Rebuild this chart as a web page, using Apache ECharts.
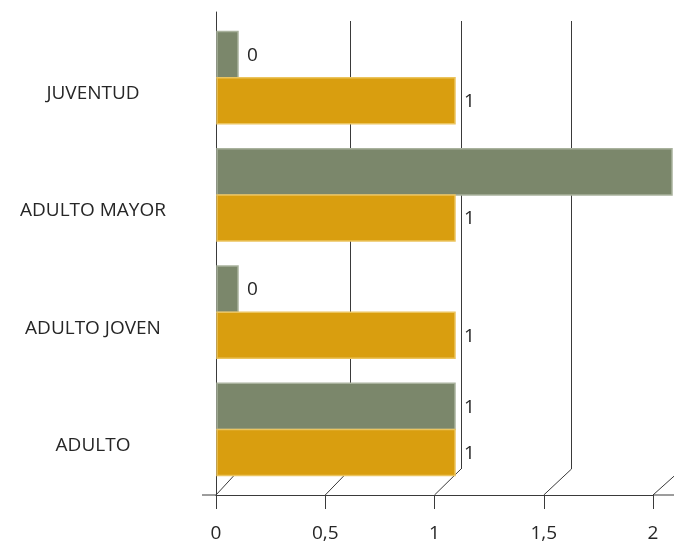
<!DOCTYPE html>
<html>
<head>
<meta charset="utf-8">
<script src="https://cdn.jsdelivr.net/npm/echarts@6/dist/echarts.min.js"></script>
<style>
  html, body { margin: 0; padding: 0; background: #ffffff; }
  #chart { width: 674px; height: 543px; }
</style>
</head>
<body>
<div id="chart"></div>
<script>
// Age groups, top to bottom
const categories = ['JUVENTUD', 'ADULTO MAYOR', 'ADULTO JOVEN', 'ADULTO'];
// Upper (olive) bar of each group
const greenValues = [0, 2, 0, 1];
// Lower (amber) bar of each group
const yellowValues = [1, 1, 1, 1];
// Value-axis range and tick step
const axisMin = 0;
const axisMax = 2;
const axisStep = 0.5;

const FONT = '"Open Sans", "Liberation Sans", sans-serif';
const FONT_SIZE = 19;
const TEXT = '#262626';
const LINE = '#3a3a3a';
const DEPTH = 21;           // visible side depth of each 3D bar, px

const fmt = v => String(v).replace('.', ',');

function barRenderer(slot, fill, edge) {
  return function (params, api) {
    const v = api.value(0);
    const c = api.value(1);
    const base = api.coord([0, c]);
    const end = api.coord([v, c]);
    const band = api.size([0, 1])[1];
    const h = band * 0.393;
    const center = base[1] - 2;
    const top = slot === 0 ? center - h : center;
    const x0 = base[0] - DEPTH;
    return {
      type: 'group',
      children: [
        {
          type: 'rect',
          shape: { x: x0, y: top, width: end[0] - x0, height: h },
          style: { fill: fill, stroke: edge, lineWidth: 1.5 }
        },
        {
          type: 'text',
          style: {
            text: fmt(v),
            x: end[0] + 9,
            y: top + h / 2 + 1,
            verticalAlign: 'middle',
            align: 'left',
            fill: TEXT,
            fontFamily: FONT,
            fontSize: FONT_SIZE
          }
        }
      ]
    };
  };
}

const chart = echarts.init(document.getElementById('chart'), null, { renderer: 'canvas' });

chart.setOption({
  backgroundColor: '#ffffff',
  animation: false,
  grid: [
    // front floor edge with tick labels
    { left: 216, width: 437, top: 12, height: 483, outerBoundsMode: 'none' },
    // back wall with vertical gridlines
    { left: 240, width: 442, top: 21, height: 448, outerBoundsMode: 'none' },
    // bar plane
    { left: 238, width: 434, top: 21, height: 469, outerBoundsMode: 'none' }
  ],
  xAxis: [
    {
      gridIndex: 0, type: 'value', min: axisMin, max: axisMax, interval: axisStep,
      axisLine: { show: true, lineStyle: { color: LINE, width: 1 } },
      axisTick: { show: true, inside: false, length: 14, lineStyle: { color: LINE } },
      axisLabel: { margin: 29, color: TEXT, fontFamily: FONT, fontSize: FONT_SIZE, formatter: fmt },
      splitLine: { show: false }
    },
    {
      gridIndex: 1, type: 'value', min: axisMin, max: axisMax, interval: axisStep,
      axisLine: { show: false }, axisTick: { show: false }, axisLabel: { show: false },
      splitLine: { show: true, showMinLine: false, lineStyle: { color: LINE, width: 1 } }
    },
    {
      gridIndex: 2, type: 'value', min: axisMin, max: axisMax, show: false
    }
  ],
  yAxis: [
    {
      gridIndex: 0, type: 'value', min: 0, max: 1,
      axisLine: { show: true, lineStyle: { color: LINE, width: 1 } },
      axisTick: { show: false }, axisLabel: { show: false }, splitLine: { show: false }
    },
    {
      gridIndex: 1, type: 'value', min: 0, max: 1, show: false, splitLine: { show: false }
    },
    {
      gridIndex: 2, type: 'category', data: categories, inverse: true,
      axisLine: { show: false }, axisTick: { show: false }, splitLine: { show: false },
      axisLabel: {
        margin: 145, align: 'center', verticalAlign: 'top', lineHeight: 28,
        color: TEXT, fontFamily: FONT, fontSize: FONT_SIZE
      }
    }
  ],
  series: [
    {
      type: 'custom', name: 'verde', xAxisIndex: 2, yAxisIndex: 2, z: 3, clip: false,
      renderItem: barRenderer(0, '#7b876b', '#a9b29d'),
      data: greenValues.map((v, i) => [v, i])
    },
    {
      type: 'custom', name: 'amarillo', xAxisIndex: 2, yAxisIndex: 2, z: 3, clip: false,
      renderItem: barRenderer(1, '#d99e0f', '#ebc45e'),
      data: yellowValues.map((v, i) => [v, i])
    }
  ]
});

// Perspective connectors between the front floor edge and the back wall,
// plus the floor edge running past both ends of the axis.
(function addFloor() {
  const ticks = [];
  for (let v = axisMin; v <= axisMax + 1e-9; v += axisStep) ticks.push(v);
  const frontY = chart.convertToPixel({ yAxisIndex: 0 }, 0);
  const backY = chart.convertToPixel({ yAxisIndex: 1 }, 0);
  const elements = ticks.map(v => {
    const fx = chart.convertToPixel({ xAxisIndex: 0 }, v);
    const bx = chart.convertToPixel({ xAxisIndex: 1 }, v);
    return {
      type: 'line', z: 1, silent: true,
      shape: { x1: fx, y1: frontY, x2: bx, y2: backY },
      style: { stroke: LINE, lineWidth: 1 }
    };
  });
  const x0 = chart.convertToPixel({ xAxisIndex: 0 }, axisMin);
  const x2 = chart.convertToPixel({ xAxisIndex: 0 }, axisMax);
  elements.push(
    { type: 'line', z: 1, silent: true, shape: { x1: x0 - 14, y1: frontY, x2: x0, y2: frontY },
      style: { stroke: LINE, lineWidth: 1 } },
    { type: 'line', z: 1, silent: true, shape: { x1: x2, y1: frontY, x2: chart.getWidth(), y2: frontY },
      style: { stroke: LINE, lineWidth: 1 } }
  );
  chart.setOption({ graphic: elements });
})();
</script>
</body>
</html>
